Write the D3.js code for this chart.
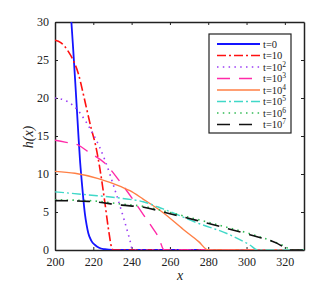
<!DOCTYPE html>
<html>
<head>
<meta charset="utf-8">
<script src="https://cdn.jsdelivr.net/npm/d3@7"></script>
<style>
  body { margin: 0; background: #fff; }
  svg text { font-family: "Liberation Serif", "Times New Roman", serif; fill: #222; }
</style>
</head>
<body>
<div id="chart"></div>
<script>
// series data: x positions and h(x) values
var xT0 = [207.6, 208.5, 209.5, 210.5, 211.5, 212.2, 213, 213.9, 214.8, 215.6, 216.5, 217.4, 219, 220.9, 223, 226, 230, 330];
var hT0 = [33, 30.2, 26.4, 22.4, 18.2, 15.2, 12, 9.2, 6.7, 4.8, 3.3, 2.2, 1.2, 0.66, 0.3, 0.1, 0, 0];

var xT1 = [200, 203, 207, 210, 212.2, 214.8, 216.5, 219, 221, 223.5, 226, 228, 229.6, 230.5, 330];
var hT1 = [27.6, 27.3, 26.1, 24.7, 23.2, 20.5, 18.6, 15.9, 14.0, 10.6, 6.3, 2.6, 0.3, 0, 0];

var xT2 = [200, 206, 210.4, 215.6, 220, 223, 226.1, 231.3, 235.6, 239.1, 240.5, 330];
var hT2 = [20.0, 19.6, 18.8, 17.1, 15.2, 13.7, 11.8, 7.9, 4.4, 1.3, 0, 0];

var xT3 = [200, 205.2, 212.2, 217.4, 226.1, 233, 240, 246, 250.4, 254, 257, 330];
var hT3 = [14.45, 14.2, 13.8, 12.9, 11.4, 9.3, 6.9, 4.7, 3.1, 1.7, 0, 0];

var xT4 = [200, 210.4, 222.6, 234.8, 239.1, 246, 256.5, 267, 275, 280, 330];
var hT4 = [10.35, 10.1, 9.4, 8.3, 7.8, 6.7, 4.9, 2.7, 1.1, 0, 0];

var xT5 = [200, 217.4, 234.8, 246, 256.5, 273.9, 291.3, 301.7, 306, 330];
var hT5 = [7.65, 7.25, 6.8, 6.35, 5.4, 3.6, 2.0, 0.66, 0, 0];

var xT6 = [200, 217.4, 234.8, 247, 256.5, 273.9, 289.6, 301.7, 319, 324, 330];
var hT6 = [6.6, 6.5, 6.05, 5.7, 5.15, 4.05, 3.0, 2.15, 0.6, 0, 0];

var xT7 = [200, 217.4, 234.8, 247, 256.5, 273.9, 289.6, 301.7, 319, 321.5, 330];
var hT7 = [6.5, 6.4, 5.9, 5.6, 5.0, 3.9, 2.85, 2.0, 0.44, 0, 0];

var legendLabels = [["0", ""], ["10", ""], ["10", "2"], ["10", "3"], ["10", "4"], ["10", "5"], ["10", "6"], ["10", "7"]];
var xTicks = [200, 220, 240, 260, 280, 300, 320];
var yTicks = [0, 5, 10, 15, 20, 25, 30];

var serif = "'Liberation Serif', 'Times New Roman', serif";

var series = [
  { x: xT0, h: hT0, color: "#1414ff", dash: null, width: 1.8 },
  { x: xT1, h: hT1, color: "#ff1010", dash: "9,3,2,3", width: 1.6 },
  { x: xT2, h: hT2, color: "#9a3cf5", dash: "1.5,4.3", width: 1.6 },
  { x: xT3, h: hT3, color: "#ff2aa8", dash: "13,9", width: 1.4 },
  { x: xT4, h: hT4, color: "#ff7f45", dash: null, width: 1.4 },
  { x: xT5, h: hT5, color: "#40d8c8", dash: "9,3,2,3", width: 1.4 },
  { x: xT6, h: hT6, color: "#33bb55", dash: "1.5,4.3", width: 1.6 },
  { x: xT7, h: hT7, color: "#111111", dash: "13,9", width: 1.6 }
];

var svgWidth = 335;
var svgHeight = 296;
var margin = { top: 22, right: 31, bottom: 46, left: 55 };
var width = svgWidth - margin.left - margin.right;
var height = svgHeight - margin.top - margin.bottom;

var svg = d3.select("#chart").append("svg")
  .attr("width", svgWidth)
  .attr("height", svgHeight)
  .attr("font-family", serif);

var g = svg.append("g")
  .attr("transform", `translate(${margin.left}, ${margin.top})`);

var xScale = d3.scaleLinear().domain([200, 330]).range([0, width]);
var yScale = d3.scaleLinear().domain([0, 30]).range([height, 0]);

svg.append("defs").append("clipPath").attr("id", "clip")
  .append("rect").attr("x", 0).attr("y", 0).attr("width", width).attr("height", height);

// axes with inward ticks, box on all sides
var bottomAxis = d3.axisBottom(xScale).tickValues(xTicks).tickSizeInner(-3).tickSizeOuter(0).tickPadding(7);
var leftAxis = d3.axisLeft(yScale).tickValues(yTicks).tickSizeInner(-3).tickSizeOuter(0).tickPadding(6);
var topAxis = d3.axisTop(xScale).tickValues(xTicks).tickSizeInner(-3).tickSizeOuter(0).tickFormat("");
var rightAxis = d3.axisRight(yScale).tickValues(yTicks).tickSizeInner(-3).tickSizeOuter(0).tickFormat("");

g.append("g").attr("transform", `translate(0, ${height})`).call(bottomAxis);
g.append("g").call(leftAxis);
g.append("g").call(topAxis);
g.append("g").attr("transform", `translate(${width}, 0)`).call(rightAxis);

g.selectAll(".domain").attr("stroke", "#222").attr("stroke-width", 1.5);
g.selectAll(".tick line").attr("stroke", "#222").attr("stroke-width", 1);
g.selectAll("g").attr("font-family", serif);
g.selectAll(".tick text")
  .style("font-family", serif)
  .style("font-size", "12px")
  .attr("fill", "#333");

// curves
var line = d3.line()
  .x((d) => xScale(d[0]))
  .y((d) => yScale(d[1]))
  .curve(d3.curveMonotoneX);

var lines = g.append("g").attr("clip-path", "url(#clip)");
series.forEach(function (s) {
  var pts = s.x.map((v, i) => [v, s.h[i]]);
  lines.append("path")
    .datum(pts)
    .attr("d", line)
    .attr("fill", "none")
    .attr("stroke", s.color)
    .attr("stroke-width", s.width)
    .attr("stroke-dasharray", s.dash);
});

// axis labels
svg.append("text")
  .attr("x", 180)
  .attr("y", 280)
  .attr("text-anchor", "middle")
  .style("font-family", serif)
  .style("font-style", "italic")
  .style("font-size", "14px")
  .text("x");

svg.append("text")
  .attr("transform", "translate(33, 137) rotate(-90)")
  .attr("text-anchor", "middle")
  .style("font-family", serif)
  .style("font-style", "italic")
  .style("font-size", "14px")
  .text("h(x)");

// legend
var legend = svg.append("g");
legend.append("rect")
  .attr("x", 209).attr("y", 34)
  .attr("width", 82).attr("height", 99)
  .attr("fill", "#fff")
  .attr("stroke", "#222")
  .attr("stroke-width", 1.2);

series.forEach(function (s, i) {
  var yy = 44 + i * 11.5;
  legend.append("line")
    .attr("x1", 217).attr("x2", 260)
    .attr("y1", yy).attr("y2", yy)
    .attr("stroke", s.color)
    .attr("stroke-width", s.width)
    .attr("stroke-dasharray", s.dash);
  var t = legend.append("text")
    .attr("x", 263)
    .attr("y", yy + 3.5)
    .style("font-family", serif)
    .style("font-size", "10.5px");
  t.append("tspan").text("t=" + legendLabels[i][0]);
  if (legendLabels[i][1]) {
    t.append("tspan")
      .attr("dy", -4)
      .style("font-size", "7.5px")
      .text(legendLabels[i][1]);
  }
});
</script>
</body>
</html>
